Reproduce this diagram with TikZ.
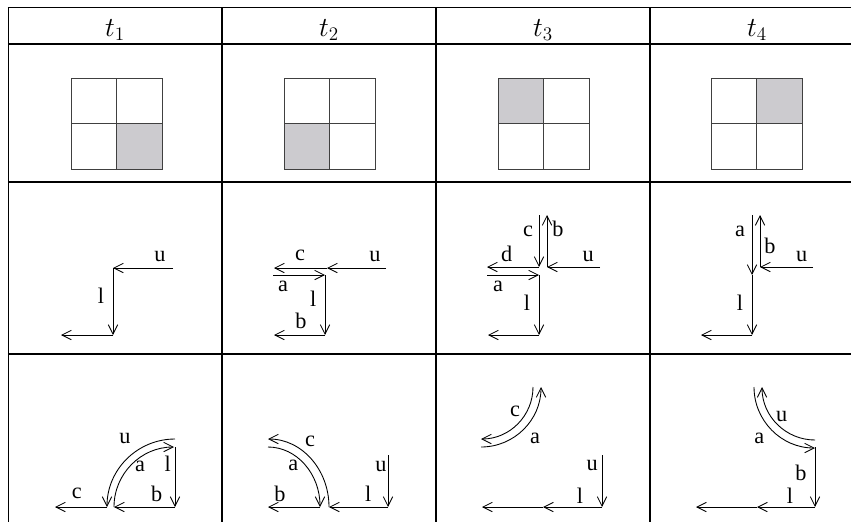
\RequirePackage{fix-cm}
\documentclass[tikz,border=0pt]{standalone}
\usepackage{fontspec}
\usepackage{tikz}
\usetikzlibrary{arrows.meta}

\newfontfamily\lblfont{Liberation Serif}
\definecolor{cellgray}{RGB}{204,203,207}

\begin{document}
\begin{tikzpicture}[
    x=0.03cm, y=-0.03cm,
    rule/.style={line width=1.1pt, black},
    gridline/.style={line width=0.7pt, draw=black!75},
    shade/.style={fill=cellgray},
    arr/.style={-{Straight Barb[length=8pt,width=8pt]}, line width=0.75pt},
    lbl/.style={anchor=base, inner sep=0pt, font=\lblfont\fontsize{19}{22}\selectfont},
    head/.style={anchor=base, inner sep=0pt, font=\LARGE, scale=1.36}
]
\useasboundingbox (0,0) rectangle (851,522);

% Table rules
\foreach \ry in {7.5, 44, 182, 354}
    \draw[rule] (7.8,\ry) -- (851,\ry);
\foreach \rx in {8.3, 222, 436, 650}
    \draw[rule] (\rx,7) -- (\rx,522);

% Header row
\node[head] (h1) at (115,36) {$t_1$};
\node[head] (h2) at (329,36) {$t_2$};
\node[head] (h3) at (543,36) {$t_3$};
\node[head] (h4) at (757,36) {$t_4$};

% Grids with the shaded quadrant
\foreach \gx/\sx/\sy in {71/1/1, 284/0/1, 498/0/0, 711/1/0} {
    \fill[shade] ({\gx+45.5*\sx},{78+45.5*\sy}) rectangle +(45.5,45.5);
    \draw[gridline] (\gx,78) rectangle +(91,91);
    \draw[gridline] ({\gx+45.5},78) -- +(0,91);
    \draw[gridline] (\gx,123.5) -- +(91,0);
}

% Second row, t1
\coordinate (p1u) at (173,268);
\coordinate (p1j) at (113,268);
\coordinate (p1k) at (113,335);
\coordinate (p1e) at (61,335);
\draw[arr] (p1u) -- (p1j);
\draw[arr] (p1j) -- (p1k);
\draw[arr] (p1k) -- (p1e);
\node[lbl] (p1lu) at (160,261.7) {u};
\node[lbl] (p1ll) at (101,303.3) {l};

% Second row, t2
\coordinate (p2u) at (386,268);
\coordinate (p2j) at (327,268);
\coordinate (p2c) at (274,268);
\coordinate (p2a) at (273,275);
\coordinate (p2m) at (325,275);
\coordinate (p2k) at (325,335);
\coordinate (p2e) at (274,335);
\draw[arr] (p2u) -- (p2j);
\draw[arr] (p2j) -- (p2c);
\draw[arr] (p2a) -- (p2m);
\draw[arr] (p2m) -- (p2k);
\draw[arr] (p2k) -- (p2e);
\node[lbl] (p2lc) at (300,260) {c};
\node[lbl] (p2lu) at (375,261.7) {u};
\node[lbl] (p2la) at (283,291.7) {a};
\node[lbl] (p2ll) at (313.3,306.7) {l};
\node[lbl] (p2lb) at (301,328.3) {b};

% Second row, t3
\coordinate (p3u) at (600,267);
\coordinate (p3j) at (547,267);
\coordinate (p3t) at (547,215);
\coordinate (p3s) at (539,215);
\coordinate (p3m) at (539,267);
\coordinate (p3d) at (487,267);
\coordinate (p3a) at (487,275);
\coordinate (p3n) at (539,275);
\coordinate (p3k) at (539,335);
\coordinate (p3e) at (488,335);
\draw[arr] (p3u) -- (p3j);
\draw[arr] (p3j) -- (p3t);
\draw[arr] (p3s) -- (p3m);
\draw[arr] (p3m) -- (p3d);
\draw[arr] (p3a) -- (p3n);
\draw[arr] (p3n) -- (p3k);
\draw[arr] (p3k) -- (p3e);
\node[lbl] (p3lc) at (528,236.7) {c};
\node[lbl] (p3lb) at (558,236.7) {b};
\node[lbl] (p3ld) at (506.7,261.7) {d};
\node[lbl] (p3lu) at (588.3,261.7) {u};
\node[lbl] (p3la) at (498,291.7) {a};
\node[lbl] (p3ll) at (527,310) {l};

% Second row, t4
\coordinate (p4u) at (813,267);
\coordinate (p4j) at (760,267);
\coordinate (p4t) at (760,215);
\coordinate (p4s) at (752,215);
\coordinate (p4m) at (752,275);
\coordinate (p4k) at (752,335);
\coordinate (p4e) at (701,335);
\draw[arr] (p4u) -- (p4j);
\draw[arr] (p4j) -- (p4t);
\draw[arr] (p4s) -- (p4m);
\draw[arr] (p4m) -- (p4k);
\draw[arr] (p4k) -- (p4e);
\node[lbl] (p4la) at (740,236.7) {a};
\node[lbl] (p4lb) at (770,253.3) {b};
\node[lbl] (p4lu) at (801.7,261.7) {u};
\node[lbl] (p4ll) at (740,310) {l};

% Third row, t1
\coordinate (q1t) at (175,447);
\coordinate (q1k) at (175,507);
\coordinate (q1b) at (114,507);
\coordinate (q1o) at (175,439);
\coordinate (q1c) at (107,507);
\coordinate (q1e) at (55,507);
\draw[arr] (q1t) -- (q1k);
\draw[arr] (q1k) -- (q1b);
\draw[arr] (q1b) arc[start angle=180, end angle=270, radius=60];
\draw[arr] (q1o) arc[start angle=270, end angle=180, radius=68];
\draw[arr] (q1c) -- (q1e);
\node[lbl] (q1lu) at (125,443.3) {u};
\node[lbl] (q1la) at (140,471.7) {a};
\node[lbl] (q1ll) at (167.7,471.7) {l};
\node[lbl] (q1lc) at (76.7,498.3) {c};
\node[lbl] (q1lb) at (156.7,501.7) {b};

% Third row, t2
\coordinate (q2t) at (388,455);
\coordinate (q2k) at (388,507);
\coordinate (q2c) at (329,507);
\coordinate (q2a) at (268,447);
\coordinate (q2b) at (320,507);
\coordinate (q2e) at (268,507);
\draw[arr] (q2t) -- (q2k);
\draw[arr] (q2k) -- (q2c);
\draw[arr] (q2c) arc[start angle=0, end angle=-90, x radius=61, y radius=68];
\draw[arr] (q2a) arc[start angle=-90, end angle=0, x radius=52, y radius=60];
\draw[arr] (q2b) -- (q2e);
\node[lbl] (q2lc) at (310,446.7) {c};
\node[lbl] (q2la) at (293.3,470) {a};
\node[lbl] (q2lu) at (381,471.7) {u};
\node[lbl] (q2lb) at (280,501.7) {b};
\node[lbl] (q2ll) at (368.3,501.7) {l};

% Third row, t3
\coordinate (q3t) at (602,455);
\coordinate (q3k) at (602,507);
\coordinate (q3m) at (543,507);
\coordinate (q3e) at (482,507);
\coordinate (q3c) at (533,387);
\coordinate (q3a) at (481,447);
\draw[arr] (q3t) -- (q3k);
\draw[arr] (q3k) -- (q3m);
\draw[arr] (q3m) -- (q3e);
\draw[arr] (q3c) arc[start angle=0, end angle=90, radius=52];
\draw[arr] (q3a) arc[start angle=90, end angle=0, radius=60];
\node[lbl] (q3lc) at (515,416.7) {c};
\node[lbl] (q3la) at (535,443.3) {a};
\node[lbl] (q3lu) at (592.3,470) {u};
\node[lbl] (q3ll) at (580,503.3) {l};

% Third row, t4
\coordinate (q4t) at (815,447);
\coordinate (q4k) at (815,507);
\coordinate (q4m) at (757,507);
\coordinate (q4e) at (696,507);
\coordinate (q4a) at (754,387);
\coordinate (q4u) at (815,440);
\draw[arr] (q4t) -- (q4k);
\draw[arr] (q4k) -- (q4m);
\draw[arr] (q4m) -- (q4e);
\draw[arr] (q4a) arc[start angle=180, end angle=90, radius=61];
\draw[arr] (q4u) arc[start angle=90, end angle=180, radius=53];
\node[lbl] (q4lu) at (781.7,421.7) {u};
\node[lbl] (q4la) at (759.3,443.3) {a};
\node[lbl] (q4lb) at (801,480) {b};
\node[lbl] (q4ll) at (790,503.3) {l};

\end{tikzpicture}
\end{document}
